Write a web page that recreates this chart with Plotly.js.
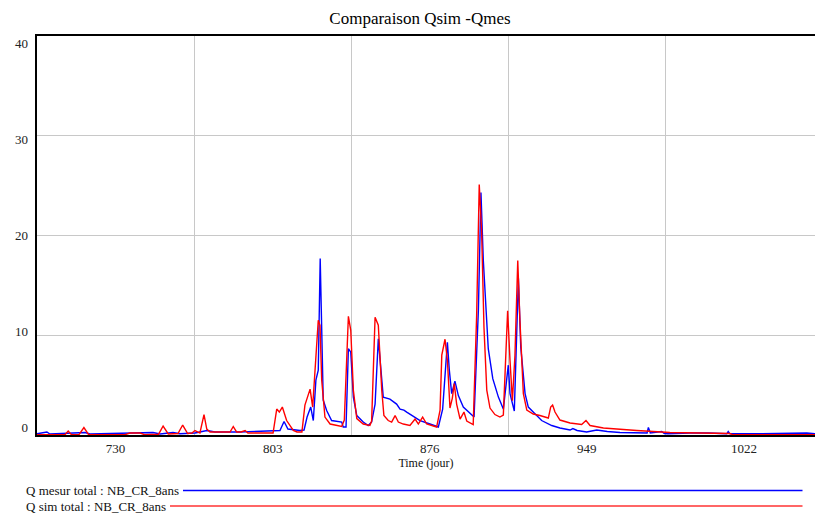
<!DOCTYPE html>
<html>
<head>
<meta charset="utf-8">
<script src="https://cdn.plot.ly/plotly-3.0.1.min.js"></script>
<style>
html,body{margin:0;padding:0;background:#fff;overflow:hidden;}
#chart{width:815px;height:515px;}
</style>
</head>
<body>
<div id="chart"></div>
<script>
// ---- Data (days) ----
var chartTitle = "Comparaison Qsim -Qmes";
var xTitle = "Time (jour)";
var seriesNames = ["Q mesur total : NB_CR_8ans", "Q sim total : NB_CR_8ans"];
var xTickLabels = ["730", "803", "876", "949", "1022"];
var xTickStarts = [730, 803, 876, 949, 1022];
var yTickVals = [0, 10, 20, 30, 40];

var mesurDays = [730, 734.6, 736, 752.3, 754.6, 783.9, 787.2, 793.2, 796.4, 803.4, 809, 812.7, 824.3,
  834.6, 839.2, 842.9, 844.8, 846.6, 852.2, 854.1, 855.5, 857.2, 858.4, 859.6, 860.7, 861.6, 863,
  864.6, 866.9, 869.3, 871.6, 872.3, 873.6, 874.7, 875.8, 877, 878.6, 881.6, 883.9, 885.5, 887.1,
  888.6, 889.7, 890.9, 894, 897.1, 898.7, 900.5, 901.8, 903.3, 904.9, 908, 912.6, 916.5, 918.5,
  920.7, 921.6, 922.7, 924.2, 925.8, 928.1, 932, 933.1, 935.1, 936.3, 937.4, 938.6, 939.7, 941.8,
  944.4, 946.7, 949, 949.8, 951.8, 953.7, 954.8, 956.8, 958.3, 961.5, 964.5, 969.2, 973, 977.7,
  979, 981, 985.4, 990.1, 995, 1000.9, 1007.1, 1013.5, 1014.1, 1015, 1020.3, 1021.5, 1023.2,
  1030.2, 1033.4, 1041.9, 1050.5, 1051.2, 1052, 1060.5, 1075.3, 1087.7, 1092];
var mesurVals = [0.12, 0.3, 0.1, 0.25, 0.1, 0.25, 0.1, 0.25, 0.12, 0.2, 0.45, 0.3, 0.3,
  0.35, 0.4, 0.45, 1.35, 0.6, 0.45, 0.5, 1.8, 2.8, 1.45, 5.5, 6.5, 17.7, 3.5,
  2.45, 1.45, 1.35, 1.3, 0.8, 0.8, 8.65, 8.3, 3.8, 1.95, 1.3, 0.95, 1.3, 3.1,
  9.65, 7.15, 3.8, 3.6, 3.1, 2.6, 2.5, 2.3, 2.1, 1.85, 1.45, 1.1, 0.8, 2.6,
  9.3, 6.5, 4.15, 5.4, 3.95, 2.8, 1.95, 1.8, 12.5, 24.3, 17.5, 12.5, 8.65, 5.65,
  3.8, 2.6, 7.0, 4.15, 2.4, 15.7, 8.8, 4.15, 2.8, 2.1, 1.45, 0.95, 0.7, 0.5,
  0.65, 0.45, 0.3, 0.5, 0.35, 0.25, 0.2, 0.2, 0.75, 0.2, 0.35, 0.15, 0.12,
  0.2, 0.2, 0.2, 0.12, 0.35, 0.12, 0.12, 0.2, 0.2, 0.12];

var simDays = [730, 743, 744.5, 746, 749.5, 751.8, 754, 770.9, 773.2, 777.9, 780, 786.5, 788.6, 791,
  795.5, 797.7, 800, 802, 803.4, 805.7, 807.6, 808.9, 810.4, 819.7, 821.2, 822.8, 824.8, 826.7, 828,
  839.7, 841.4, 842.6, 844, 846, 849.1, 850.8, 853.1, 854.5, 856.9, 858.1, 860.7, 861.5, 862.3,
  863.8, 866.2, 868.9, 871.6, 872.8, 874.7, 875.8, 877, 878.6, 881.6, 884.7, 885.5, 887.1, 888.6,
  890.2, 891.2, 893.2, 894.8, 896.4, 897.9, 900.2, 903.3, 905.7, 907.2, 909.2, 911.1, 914.2, 915.7,
  917.3, 918.1, 919.6, 920.7, 921.9, 923, 923.9, 925, 926.6, 928.4, 929.7, 932.7, 934.3, 935.5,
  936.6, 937.7, 939, 940.5, 942.8, 945.1, 946.7, 947.8, 948.7, 949.8, 950.9, 952.1, 953.4, 954.4,
  956, 957.6, 960.6, 963.7, 967.6, 968.7, 969.6, 970.7, 973, 977.7, 983.1, 985.1, 987, 993.2,
  1000.9, 1008.7, 1016.4, 1024.1, 1038.1, 1052, 1053.4, 1092];
var simVals = [0.03, 0.03, 0.4, 0.03, 0.03, 0.75, 0.03, 0.03, 0.2, 0.2, 0.03, 0.08, 0.9, 0.1,
  0.15, 1.0, 0.15, 0.2, 0.45, 0.2, 2.05, 0.6, 0.3, 0.3, 0.85, 0.3, 0.3, 0.45, 0.2,
  0.2, 2.6, 2.3, 2.8, 1.45, 0.45, 0.3, 0.3, 3.0, 4.6, 2.8, 11.5, 11.0, 5.5,
  1.8, 1.1, 0.95, 0.85, 1.5, 11.9, 10.5, 4.5, 1.65, 1.1, 0.95, 1.4, 11.8, 11.0,
  4.5, 1.95, 1.45, 1.3, 1.95, 1.3, 1.1, 0.95, 1.6, 1.1, 1.8, 1.1, 0.9, 0.8,
  2.5, 8.0, 9.6, 7.5, 2.7, 3.7, 5.15, 3.1, 1.6, 2.3, 1.4, 1.05, 12.0, 25.1,
  20.5, 10.8, 4.5, 2.7, 2.05, 1.8, 2.0, 8.8, 12.45, 7.5, 3.45, 8.0, 17.5, 11.5,
  4.15, 2.5, 2.1, 1.95, 1.7, 2.8, 3.0, 2.3, 1.5, 1.2, 1.05, 1.45, 0.95, 0.7,
  0.55, 0.45, 0.35, 0.25, 0.2, 0.15, 0.02, 0.02];

var seriesColors = ["#0000ff", "#ff0000"];

// ---- Layout geometry (pixels) ----
var W = 815, H = 515;
var mL = 37, mT = 36, mB = 80, mR = 0;
var plotW = W - mL - mR, plotH = H - mT - mB;
var pxPerDay = 2.152;
var xMin = 730, xMax = 730 + plotW / pxPerDay;
function px2paperX(px){ return (px - mL) / plotW; }
function py2paperY(py){ return (H - mB - py) / plotH; }

// tick labels of the value axis sit slightly inside the grid (label 0 at y=427, 40 at y=43)
var lab0 = 427, lab40 = 43, labPerUnit = (lab0 - lab40) / 40;
var y2Range = [(lab0 - (H - mB)) / labPerUnit, (lab0 - mT) / labPerUnit];

var serif = "Liberation Serif, Times New Roman, serif";

var traces = [
  {x: mesurDays, y: mesurVals, type: "scatter", mode: "lines", name: seriesNames[0],
   line: {color: seriesColors[0], width: 1.4}, showlegend: false, hoverinfo: "skip"},
  {x: simDays, y: simVals, type: "scatter", mode: "lines", name: seriesNames[1],
   line: {color: seriesColors[1], width: 1.4}, showlegend: false, hoverinfo: "skip"},
  {x: [], y: [], yaxis: "y2", type: "scatter", mode: "lines", showlegend: false, hoverinfo: "skip"}
];

var tickMid = xTickStarts.map(function(v){ return v + 36.5; });

var layout = {
  width: W, height: H,
  margin: {l: mL, r: mR, t: mT, b: mB, pad: 0},
  paper_bgcolor: "#ffffff", plot_bgcolor: "#ffffff",
  font: {family: serif, size: 13, color: "#222"},
  title: {text: chartTitle, font: {family: serif, size: 17, color: "#000"},
          x: px2paperX(420), xref: "paper", xanchor: "center", y: 1 - 18 / H, yanchor: "middle"},
  xaxis: {range: [xMin, xMax], tickmode: "array", tickvals: tickMid, ticktext: xTickLabels,
          showgrid: false, zeroline: false, ticks: "", showline: true, linecolor: "#000", linewidth: 2,
          mirror: true,
          minor: {tickmode: "linear", tick0: 730, dtick: 73, showgrid: true, gridcolor: "#c8c8c8", gridwidth: 1, ticks: ""},
          title: {text: xTitle, font: {family: serif, size: 12, color: "#111"}, standoff: 3},
          tickfont: {family: serif, size: 13, color: "#222"}},
  yaxis: {range: [0, 40], tickmode: "array", tickvals: yTickVals, showgrid: true, gridcolor: "#c8c8c8",
          gridwidth: 1, zeroline: false, ticks: "", showline: true, linecolor: "#000", linewidth: 2,
          showticklabels: false},
  yaxis2: {overlaying: "y", side: "left", anchor: "x", range: y2Range, tickmode: "array",
           tickvals: yTickVals, showgrid: false, zeroline: false, showline: false, ticks: "",
           ticklabelstandoff: 8, tickfont: {family: serif, size: 13, color: "#222"}},
  showlegend: false,
  annotations: [
    {text: seriesNames[0], xref: "paper", yref: "paper", x: px2paperX(24), y: py2paperY(490),
     xanchor: "left", yanchor: "middle", showarrow: false, font: {family: serif, size: 13, color: "#111"}},
    {text: seriesNames[1], xref: "paper", yref: "paper", x: px2paperX(24), y: py2paperY(506),
     xanchor: "left", yanchor: "middle", showarrow: false, font: {family: serif, size: 13, color: "#111"}}
  ],
  shapes: [
    {type: "line", xref: "paper", yref: "paper", x0: px2paperX(183), x1: px2paperX(802.5),
     y0: py2paperY(490.5), y1: py2paperY(490.5), line: {color: seriesColors[0], width: 1.3}},
    {type: "line", xref: "paper", yref: "paper", x0: px2paperX(170), x1: px2paperX(802.5),
     y0: py2paperY(506), y1: py2paperY(506), line: {color: "rgba(255,0,0,0.6)", width: 1.8}}
  ]
};

Plotly.newPlot("chart", traces, layout, {staticPlot: true, displayModeBar: false});
</script>
</body>
</html>
